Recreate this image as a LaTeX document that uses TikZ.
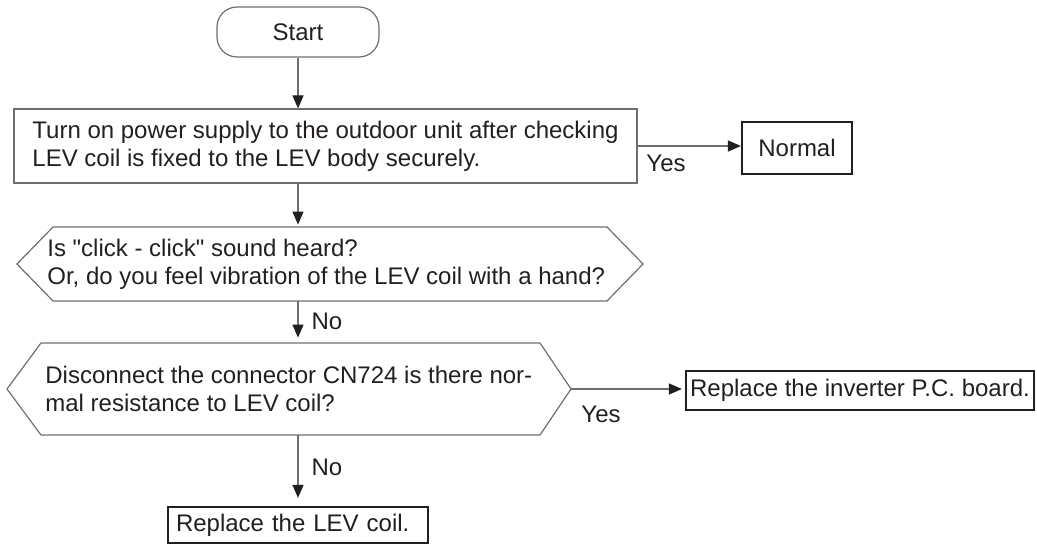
\documentclass[tikz,border=0pt]{standalone}
\usepackage{fontspec}
\setmainfont{Liberation Sans}[Ligatures=TeXOff]
\usetikzlibrary{arrows.meta,positioning,calc}
\definecolor{ink}{HTML}{231F20}
\definecolor{rule}{HTML}{6D6E71}
\newcommand{\chartfont}{\fontsize{12}{14}\selectfont}
\tikzset{
  box/.style={draw=rule, line width=0.6pt, text=ink, font=\chartfont, inner sep=0pt},
  startbox/.style={box, rounded corners=10pt, minimum width=81pt, minimum height=25pt},
  stepbox/.style={box, align=left, minimum height=37pt},
  endbox/.style={box, draw=ink, line width=1.1pt},
  qtext/.style={text=ink, font=\chartfont, align=left, inner sep=0pt, anchor=west},
  lbl/.style={text=ink, font=\chartfont, inner sep=0pt},
  hexline/.style={draw=rule, line width=0.6pt},
  arrow/.style={-{Triangle[length=6.5pt,width=5.5pt,color=ink]}, draw=rule, line width=0.6pt}
}

\begin{document}
\begin{tikzpicture}[x=0.5pt, y=-0.5pt]
  \useasboundingbox (0,0) rectangle (1037,545);

  \node[startbox] (start) at (298,32) {Start};
  \node[stepbox, minimum width=311.5pt] (box1) at (325.5,146)
    {Turn on power supply to the outdoor unit after checking\\LEV coil is fixed to the LEV body securely.};
  \node[endbox, minimum width=55pt, minimum height=26pt] (normal) at (797,148) {Normal};
  \node[lbl] (yes1) at (666,163) {Yes};

  % first check
  \draw[hexline] (53,227) -- (607,227) -- (643,264) -- (607,301) -- (53,301) -- (17,264) -- cycle;
  \node[qtext, minimum height=37pt] (q1) at (47,264)
    {Is "click - click" sound heard?\\Or, do you feel vibration of the LEV coil with a hand?};
  \node[lbl] (no1) at (327,321) {No};

  % second check
  \draw[hexline] (41,343) -- (540,343) -- (571,389) coordinate (q2tip) -- (540,435) -- (41,435) -- (7,389) -- cycle;
  \node[qtext, minimum height=46pt] (q2) at (45,389)
    {Disconnect the connector CN724 is there nor-\\mal resistance to LEV coil?};
  \node[lbl] (yes2) at (601,414) {Yes};
  \node[endbox, minimum width=174pt, minimum height=19.5pt] (inverter) at (860,390.5) {Replace the inverter P.C. board.};
  \node[lbl] (no2) at (327,467) {No};
  \node[endbox, text width=122pt, inner xsep=4pt, align=left, minimum height=18pt] (lev) at (298,525) {Replace the LEV coil.};

  \draw[arrow] (start) -- (start |- box1.north);
  \draw[arrow] (box1.east) -- (box1.east -| normal.west);
  \draw[arrow, shorten >=1pt] (box1.south -| start) -- (q1.north -| start);
  \draw[arrow, shorten >=2.5pt] (q1.south -| start) -- (q2.north -| start);
  \draw[arrow, shorten >=1.5pt] (q2tip) -- (q2tip -| inverter.west);
  \draw[arrow, shorten >=4pt] (q2.south -| start) -- (lev.north -| start);
\end{tikzpicture}
\end{document}
